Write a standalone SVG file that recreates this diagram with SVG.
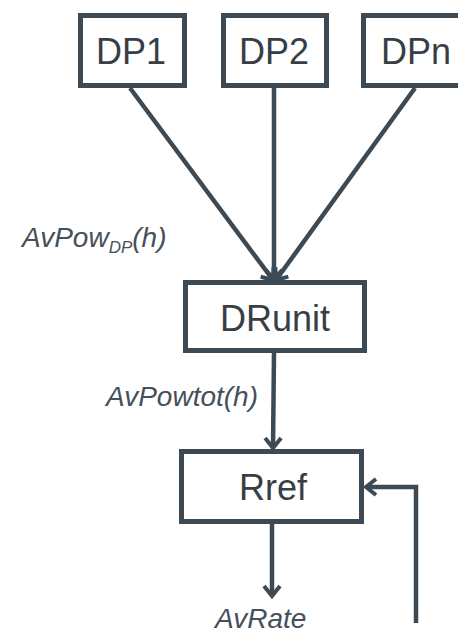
<svg xmlns="http://www.w3.org/2000/svg" width="458" height="635" viewBox="0 0 458 635">
<style>
.box{fill:#fff;stroke:#3e4a53;stroke-width:5}
.t{font-family:"Liberation Sans",Arial,sans-serif;font-size:36px;fill:#383e45;text-anchor:middle}
.lbl{font-family:"Liberation Sans",Arial,sans-serif;font-size:28px;font-style:italic;fill:#46505a}
.c{fill:none;stroke:#3e4a53;stroke-width:4.5}
</style>
<defs>
<marker id="ar" markerUnits="userSpaceOnUse" markerWidth="24" markerHeight="24" viewBox="-14 -12 16 24" refX="0" refY="0" orient="auto">
<path d="M-10,-8 L0,0 L-10,8" fill="none" stroke="#3e4a53" stroke-width="4"/>
</marker>
</defs>
<rect width="458" height="635" fill="#fff"/>
<g id="connectors">
<line class="c" x1="130" y1="88" x2="273" y2="280" marker-end="url(#ar)"/>
<line class="c" x1="274" y1="88" x2="274" y2="280" marker-end="url(#ar)"/>
<line class="c" x1="415" y1="88" x2="276" y2="280" marker-end="url(#ar)"/>
<line class="c" x1="274" y1="353" x2="273" y2="448" marker-end="url(#ar)"/>
<line class="c" x1="272" y1="524" x2="272" y2="596" marker-end="url(#ar)"/>
<path class="c" d="M416,623 V487 H366" marker-end="url(#ar)"/>
</g>
<g id="DP1"><rect class="box" x="80.5" y="15.5" width="104" height="70"/><text class="t" x="131" y="64">DP1</text></g>
<g id="DP2"><rect class="box" x="223.5" y="15.5" width="103" height="70"/><text class="t" x="274" y="64">DP2</text></g>
<g id="DPn"><rect class="box" x="363.5" y="15.5" width="104" height="70"/><text class="t" x="416" y="64">DPn</text></g>
<g id="DRunit"><rect class="box" x="185.5" y="282.5" width="179" height="68"/><text class="t" x="275" y="331">DRunit</text></g>
<g id="Rref"><rect class="box" x="181.5" y="451.5" width="180" height="70"/><text class="t" x="273" y="500">Rref</text></g>
<text class="lbl" x="22" y="247">AvPow<tspan font-size="17" dy="6">DP</tspan><tspan dy="-6">(h)</tspan></text>
<text class="lbl" x="106" y="406">AvPowtot(h)</text>
<text class="lbl" x="215" y="628">AvRate</text>
</svg>
